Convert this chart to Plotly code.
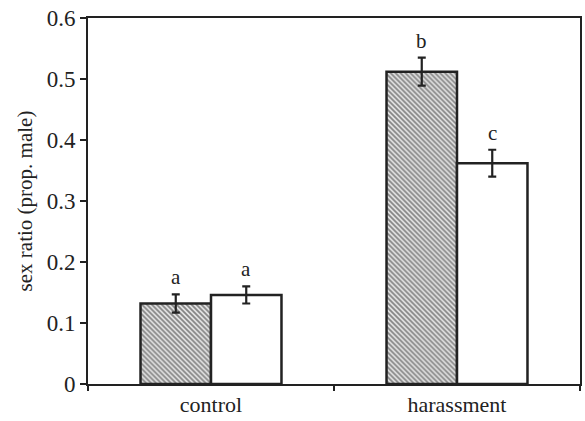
import plotly.graph_objects as go

categories = ["control", "harassment"]
hatched_values = [0.132, 0.512]
hatched_errors = [0.015, 0.023]
white_values = [0.146, 0.362]
white_errors = [0.014, 0.022]
hatched_letters = ["a", "b"]
white_letters = ["a", "c"]
y_ticks = [0, 0.1, 0.2, 0.3, 0.4, 0.5, 0.6]
y_tick_labels = ["0", "0.1", "0.2", "0.3", "0.4", "0.5", "0.6"]

FONT = "Liberation Serif, Times New Roman, serif"
DARK = "#222222"

fig = go.Figure()
fig.add_trace(go.Bar(
    x=categories, y=hatched_values,
    error_y=dict(type="data", array=hatched_errors, color=DARK, thickness=2.2, width=4),
    marker=dict(color="#e6e6e6", line=dict(color=DARK, width=2.5),
                pattern=dict(shape="\\", fgcolor="#222222", bgcolor="#e6e6e6", size=3.5, solidity=0.5)),
    showlegend=False,
))
fig.add_trace(go.Bar(
    x=categories, y=white_values,
    error_y=dict(type="data", array=white_errors, color=DARK, thickness=2.2, width=4),
    marker=dict(color="white", line=dict(color=DARK, width=2.5)),
    showlegend=False,
))

annotations = []
for i, c in enumerate(categories):
    annotations.append(dict(x=i - 0.143, y=hatched_values[i] + hatched_errors[i], xref="x", yref="y",
                            text=hatched_letters[i], showarrow=False, yanchor="bottom", yshift=3,
                            font=dict(family=FONT, size=21, color=DARK)))
    annotations.append(dict(x=i + 0.143, y=white_values[i] + white_errors[i], xref="x", yref="y",
                            text=white_letters[i], showarrow=False, yanchor="bottom", yshift=3,
                            font=dict(family=FONT, size=21, color=DARK)))

fig.update_layout(
    width=585, height=421,
    margin=dict(l=88, r=5, t=18, b=37),
    paper_bgcolor="white", plot_bgcolor="white",
    barmode="group", bargap=0.427, bargroupgap=0,
    font=dict(family=FONT, color=DARK),
    annotations=annotations,
)
fig.update_xaxes(
    range=[-0.5, 1.5], showline=True, linecolor=DARK, linewidth=2, mirror=True,
    ticks="outside", tickson="boundaries", ticklen=5, tickwidth=2, tickcolor=DARK,
    tickfont=dict(family=FONT, size=22, color=DARK), showgrid=False, automargin=False,
)
fig.update_yaxes(
    range=[0, 0.6], showline=True, linecolor=DARK, linewidth=2, mirror=True,
    ticks="outside", ticklen=6, tickwidth=2, tickcolor=DARK,
    tickvals=y_ticks, ticktext=y_tick_labels, automargin=False,
    tickfont=dict(family=FONT, size=23, color=DARK), showgrid=False, zeroline=False,
    title=dict(text="sex ratio (prop. male)", font=dict(family=FONT, size=21, color=DARK), standoff=8),
)

fig.write_html(
    "out.html",
    config={"displayModeBar": False},
    post_script="document.body.style.margin='0';document.body.style.overflow='hidden';",
)
